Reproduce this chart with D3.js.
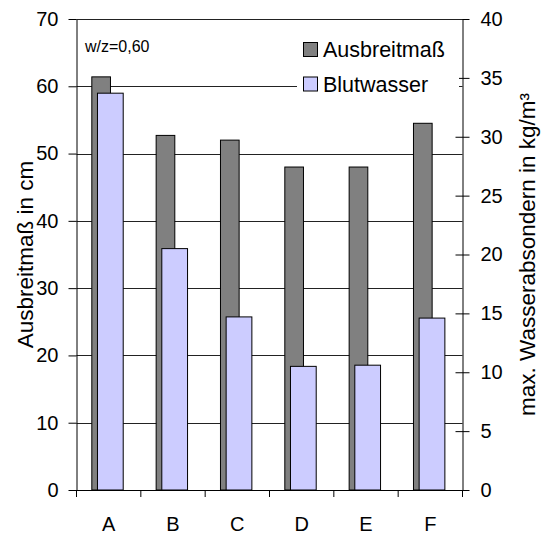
<!DOCTYPE html>
<html>
<head>
<meta charset="utf-8">
<script src="https://cdn.jsdelivr.net/npm/d3@7"></script>
<style>
  html, body { margin: 0; padding: 0; background: #fff; }
  svg { display: block; font-family: "Liberation Sans", Arial, sans-serif; }
</style>
</head>
<body>
<svg id="chart" width="547" height="538"></svg>
<script>
// Mixture labels
const categories = ["A", "B", "C", "D", "E", "F"];
// Ausbreitmaß in cm (left axis)
const ausbreitmass = [61.4, 52.7, 52.0, 48.0, 48.0, 54.5];
// Blutwasser, max. Wasserabsondern in kg/m³ (right axis)
const blutwasser = [33.7, 20.5, 14.7, 10.5, 10.6, 14.6];
// Axis ticks
const leftTicks = [0, 10, 20, 30, 40, 50, 60, 70];
const rightTicks = [0, 5, 10, 15, 20, 25, 30, 35, 40];
const seriesNames = ["Ausbreitmaß", "Blutwasser"];
const annotation = "w/z=0,60";

const svg = d3.select("#chart");
const plot = { left: 76.5, right: 462.5, top: 19, bottom: 490 };

const x = d3.scaleBand().domain(categories).range([plot.left, plot.right]).padding(0);
const yL = d3.scaleLinear().domain([0, 70]).range([plot.bottom, plot.top]);
const yR = d3.scaleLinear().domain([0, 40]).range([plot.bottom, plot.top]);

const colors = { gray: "#808080", blue: "#ccccff" };

// Horizontal gridlines on the left scale
svg.append("g")
  .selectAll("line")
  .data(leftTicks.filter(d => d > 0))
  .join("line")
  .attr("x1", plot.left).attr("x2", plot.right)
  .attr("y1", d => Math.round(yL(d)) + 0.5).attr("y2", d => Math.round(yL(d)) + 0.5)
  .attr("stroke", "#222").attr("stroke-width", 1);

const bw = x.bandwidth();

// Ausbreitmaß bars (left scale)
svg.append("g")
  .selectAll("rect")
  .data(categories)
  .join("rect")
  .attr("x", (d, i) => x(d) + bw * 0.238)
  .attr("width", bw * 0.29)
  .attr("y", (d, i) => yL(ausbreitmass[i]))
  .attr("height", (d, i) => yL(0) - yL(ausbreitmass[i]))
  .attr("fill", colors.gray)
  .attr("stroke", "#000").attr("stroke-width", 1);

// Blutwasser bars (right scale)
svg.append("g")
  .selectAll("rect")
  .data(categories)
  .join("rect")
  .attr("x", (d, i) => x(d) + bw * 0.326)
  .attr("width", bw * 0.40)
  .attr("y", (d, i) => yR(blutwasser[i]))
  .attr("height", (d, i) => yR(0) - yR(blutwasser[i]))
  .attr("fill", colors.blue)
  .attr("stroke", "#000").attr("stroke-width", 1);

// Left axis
const gL = svg.append("g")
  .attr("transform", `translate(${plot.left},0)`)
  .call(d3.axisLeft(yL).tickValues(leftTicks).tickSize(8).tickSizeOuter(0).tickPadding(10));
gL.select(".domain").attr("stroke", "#000");
gL.selectAll(".tick line").attr("stroke", "#000");
gL.selectAll(".tick text").attr("font-size", 20).attr("fill", "#000").attr("font-family", "Liberation Sans, Arial, sans-serif");

// Right axis with ticks crossing the axis line
const gR = svg.append("g")
  .attr("transform", `translate(${plot.right},0)`)
  .call(d3.axisRight(yR).tickValues(rightTicks).tickSize(7).tickSizeOuter(0).tickPadding(11));
gR.select(".domain").attr("stroke", "#000");
gR.selectAll(".tick line").attr("x1", -7).attr("stroke", "#000");
gR.selectAll(".tick text").attr("font-size", 20).attr("fill", "#000").attr("font-family", "Liberation Sans, Arial, sans-serif");

// Category axis: ticks at band boundaries
const gX = svg.append("g")
  .attr("transform", `translate(0,${plot.bottom})`)
  .call(d3.axisBottom(x).tickSize(0).tickPadding(27));
gX.select(".domain").attr("stroke", "#000").attr("d", `M${plot.left},0.5H${plot.right}`);
gX.selectAll(".tick text").attr("font-size", 20).attr("fill", "#000").attr("font-family", "Liberation Sans, Arial, sans-serif");
svg.append("g")
  .selectAll("line")
  .data(categories.map(c => x(c)).concat([plot.right]))
  .join("line")
  .attr("x1", d => d).attr("x2", d => d)
  .attr("y1", plot.bottom).attr("y2", plot.bottom + 7)
  .attr("stroke", "#000");

// Top border line at 70
svg.append("line")
  .attr("x1", plot.left).attr("x2", plot.right)
  .attr("y1", yL(70) + 0.5).attr("y2", yL(70) + 0.5)
  .attr("stroke", "#222");

// Axis titles
svg.append("text")
  .attr("transform", `translate(33,${(plot.top + plot.bottom) / 2}) rotate(-90)`)
  .attr("text-anchor", "middle")
  .attr("font-size", 22.5)
  .text("Ausbreitmaß in cm");

svg.append("text")
  .attr("transform", `translate(535,${(plot.top + plot.bottom) / 2}) rotate(-90)`)
  .attr("text-anchor", "middle")
  .attr("font-size", 22.5)
  .text("max. Wasserabsondern in kg/m³");

// Annotation
svg.append("text")
  .attr("x", 85).attr("y", 52)
  .attr("font-size", 16)
  .text(annotation);

// Legend
const legend = svg.append("g");
legend.append("rect")
  .attr("x", 297).attr("y", 30).attr("width", 162).attr("height", 70)
  .attr("fill", "#fff");
const legendColors = [colors.gray, colors.blue];
seriesNames.forEach((name, i) => {
  const yb = 57 + i * 34.5;
  legend.append("rect")
    .attr("x", 303.5).attr("y", yb - 14.5).attr("width", 14).attr("height", 14)
    .attr("fill", legendColors[i]).attr("stroke", "#000");
  legend.append("text")
    .attr("x", 323).attr("y", yb)
    .attr("font-size", 21.5)
    .text(name);
});
</script>
</body>
</html>
